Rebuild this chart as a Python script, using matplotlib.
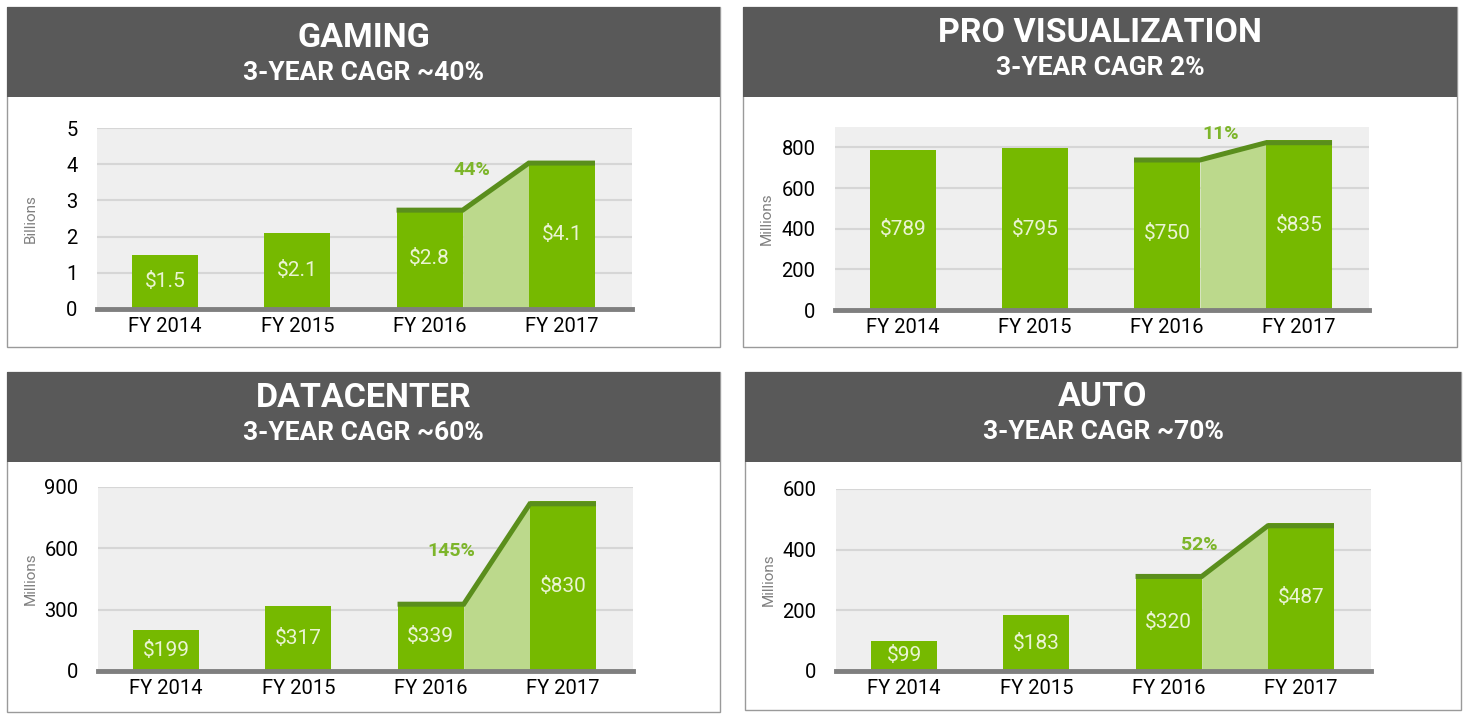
import matplotlib
matplotlib.use('Agg')
import matplotlib.pyplot as plt
import matplotlib.patches as mpatches
import matplotlib.transforms as mtransforms
import numpy as np

W, H = 1469, 719

years = ["FY 2014", "FY 2015", "FY 2016", "FY 2017"]
gaming = [1.5, 2.1, 2.8, 4.1]
pro_viz = [789, 795, 750, 835]
datacenter = [199, 317, 339, 830]
auto = [99, 183, 320, 487]

titles = ["GAMING", "PRO VISUALIZATION", "DATACENTER", "AUTO"]
subtitles = ["3-YEAR CAGR ~40%", "3-YEAR CAGR 2%", "3-YEAR CAGR ~60%", "3-YEAR CAGR ~70%"]
growth = ["44%", "11%", "145%", "52%"]
units = ["Billions", "Millions", "Millions", "Millions"]
yticks = [[0, 1, 2, 3, 4, 5], [0, 200, 400, 600, 800], [0, 300, 600, 900], [0, 200, 400, 600]]
ylims = [5, 900, 900, 600]
label_fmt = ["${:.1f}", "${:.0f}", "${:.0f}", "${:.0f}"]
series = [gaming, pro_viz, datacenter, auto]

# layout in pixels: panel box (x0, y0, x1, y1), header bottom, axes box, title/subtitle y, growth label pos
panels = [
    ((7, 7, 720, 347), 97, (97, 128, 632, 309), (38, 73), (2.32, 3.84)),
    ((743, 7, 1457, 347), 97, (835, 127, 1369, 310), (33, 68), (2.41, 864)),
    ((7, 372, 720, 712), 462, (98, 487, 633, 671), (398, 433), (2.16, 587)),
    ((745, 372, 1461, 710), 462, (836, 489, 1371, 671), (397, 432), (2.23, 415)),
]

GREEN = "#76b900"
DARK_GREEN = "#5a8e1c"
LIGHT_GREEN = "#bcd98c"
HEADER = "#595959"

plt.rcParams["font.family"] = ["Roboto", "DejaVu Sans"]

fig = plt.figure(figsize=(W / 100, H / 100), dpi=100)


def fx(px):
    return px / W


def fy(py):
    return 1 - py / H


for i, (box, hdr, axbox, ty, gpos) in enumerate(panels):
    x0, y0, x1, y1 = box
    fig.patches.append(mpatches.Rectangle((fx(x0), fy(y1)), fx(x1 - x0), (y1 - y0) / H,
                                          transform=fig.transFigure, facecolor="white",
                                          edgecolor="#9a9a9a", linewidth=1, zorder=-3))
    fig.patches.append(mpatches.Rectangle((fx(x0), fy(hdr)), fx(x1 - x0), (hdr - y0) / H,
                                          transform=fig.transFigure, facecolor=HEADER,
                                          edgecolor="none", zorder=-2))
    cx = fx((x0 + x1) / 2)
    fig.text(cx, fy(ty[0]), titles[i], ha="center", va="center", color="white",
             fontsize=24.5, fontweight="bold")
    fig.text(cx, fy(ty[1]), subtitles[i], ha="center", va="center", color="white",
             fontsize=19, fontweight="bold")

    ax0, ay0, ax1, ay1 = axbox
    ax = fig.add_axes([fx(ax0), fy(ay1), fx(ax1 - ax0), (ay1 - ay0) / H])
    ax.set_facecolor("#efefef")
    vals = series[i]
    x = np.arange(len(years))
    bw = 0.5
    ax.bar(x, vals, width=bw, color=GREEN, zorder=3)

    # growth wedge between the last two bars, dark edge sits inside the bar tops
    xa, xb = x[2] + bw / 2, x[3] - bw / 2
    ax.fill_between([xa, xb], [vals[2], vals[3]], 0, color=LIGHT_GREEN, lw=0, zorder=2)
    shifted = mtransforms.offset_copy(ax.transData, fig=fig, x=0, y=-2.5, units="dots")
    ax.plot([x[2] - bw / 2, xa, xb, x[3] + bw / 2], [vals[2], vals[2], vals[3], vals[3]],
            color=DARK_GREEN, lw=3.6, solid_capstyle="butt", solid_joinstyle="miter",
            zorder=4, transform=shifted)
    ax.text(gpos[0], gpos[1], growth[i], ha="center", va="center", color="#7db52a",
            fontsize=14, fontweight="bold", zorder=5)

    for xi, v in zip(x, vals):
        ax.text(xi, v / 2, label_fmt[i].format(v), ha="center", va="center",
                color="#eaf4d3", fontsize=15, zorder=5)

    ax.set_xlim(-0.515, 3.53)
    ax.set_ylim(0, ylims[i])
    ax.set_yticks(yticks[i])
    ax.set_xticks(x)
    ax.set_xticklabels(years)
    ax.tick_params(axis="both", length=0, labelsize=14.5, colors="black")
    ax.tick_params(axis="y", pad=14)
    ax.tick_params(axis="x", pad=6)
    ax.grid(axis="y", color="#d6d6d6", lw=1.5, zorder=1)
    ax.set_axisbelow(True)
    for s in ax.spines.values():
        s.set_visible(False)
    ax.axhline(0, color="#7f7f7f", lw=3.5, zorder=6, clip_on=False)
    ax.set_ylabel(units[i], fontsize=11, color="#808080")
    ax.yaxis.set_label_coords(-(ax0 - (x0 + 31)) / (ax1 - ax0), 0.5)

fig.savefig("out.png", dpi=100)
